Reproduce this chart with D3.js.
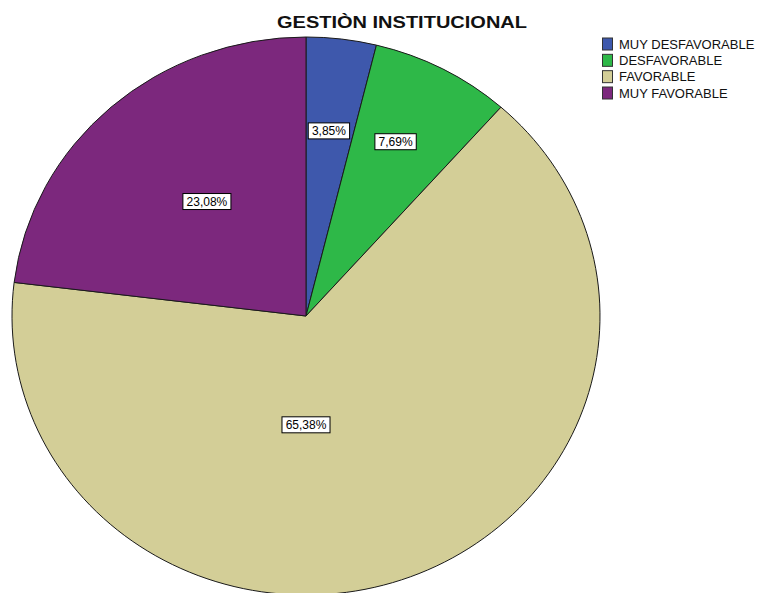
<!DOCTYPE html>
<html>
<head>
<meta charset="utf-8">
<script src="https://cdn.jsdelivr.net/npm/d3@7"></script>
<style>
  html, body { margin: 0; padding: 0; background: #fff; }
  svg { display: block; }
  text { font-family: "Liberation Sans", Arial, sans-serif; }
</style>
</head>
<body>
<svg id="chart" width="759" height="593"></svg>
<script>
// ---- data ----
const title = "GESTIÒN INSTITUCIONAL";
const categories = ["MUY DESFAVORABLE", "DESFAVORABLE", "FAVORABLE", "MUY FAVORABLE"];
const values = [3.85, 7.69, 65.38, 23.08];
const valueLabels = ["3,85%", "7,69%", "65,38%", "23,08%"];

// ---- style / layout ----
const colors = ["#3E58AC", "#2EB848", "#D3CE97", "#7C287D"];
const cx = 306, cy = 316, rx = 294, ry = 279;
const labelAngleDeg = [6.7, 26.0, 180.0, -39.4];
const labelFrac = [0.668, 0.695, 0.39, 0.531];

const svg = d3.select("#chart");

// title
svg.append("text")
  .attr("x", 402).attr("y", 28)
  .attr("text-anchor", "middle")
  .attr("font-size", 17).attr("font-weight", "bold")
  .attr("textLength", 250).attr("lengthAdjust", "spacingAndGlyphs")
  .attr("fill", "#111")
  .text(title);

// pie (elliptical, as in the reference)
const color = d3.scaleOrdinal().domain(categories).range(colors);
const pie = d3.pie().sort(null).value(d => d.v);
const data = categories.map((c, i) => ({ c, v: values[i], lab: valueLabels[i], i }));
const arcs = pie(data);
const arc = d3.arc().innerRadius(0).outerRadius(ry);

const g = svg.append("g")
  .attr("transform", `translate(${cx},${cy}) scale(${rx / ry},1)`);

g.selectAll("path")
  .data(arcs)
  .join("path")
  .attr("d", arc)
  .attr("fill", d => color(d.data.c))
  .attr("stroke", "#1a1a1a")
  .attr("stroke-width", 1)
  .attr("vector-effect", "non-scaling-stroke");

// value labels
const lg = svg.append("g");
arcs.forEach((d, i) => {
  const a = labelAngleDeg[i] * Math.PI / 180;
  const x = cx + rx * labelFrac[i] * Math.sin(a);
  const y = cy - ry * labelFrac[i] * Math.cos(a);
  const t = lg.append("text")
    .attr("x", x).attr("y", y + 4.3)
    .attr("text-anchor", "middle")
    .attr("font-size", 12)
    .attr("fill", "#000")
    .text(d.data.lab);
  const bb = t.node().getBBox();
  lg.insert("rect", "text")
    .attr("x", x - bb.width / 2 - 3.5)
    .attr("y", y - 8)
    .attr("width", bb.width + 7)
    .attr("height", 16)
    .attr("fill", "#fff")
    .attr("stroke", "#000")
    .attr("stroke-width", 1);
});

// legend
const legend = svg.append("g");
const rowY = d3.scalePoint().domain(categories).range([44, 93]);
categories.forEach((c) => {
  const y = rowY(c);
  legend.append("rect")
    .attr("x", 602.5).attr("y", y - 6)
    .attr("width", 10).attr("height", 12)
    .attr("fill", color(c))
    .attr("stroke", "#333").attr("stroke-width", 1);
  legend.append("text")
    .attr("x", 619).attr("y", y + 4.6)
    .attr("font-size", 13)
    .attr("fill", "#111")
    .text(c);
});
</script>
</body>
</html>
